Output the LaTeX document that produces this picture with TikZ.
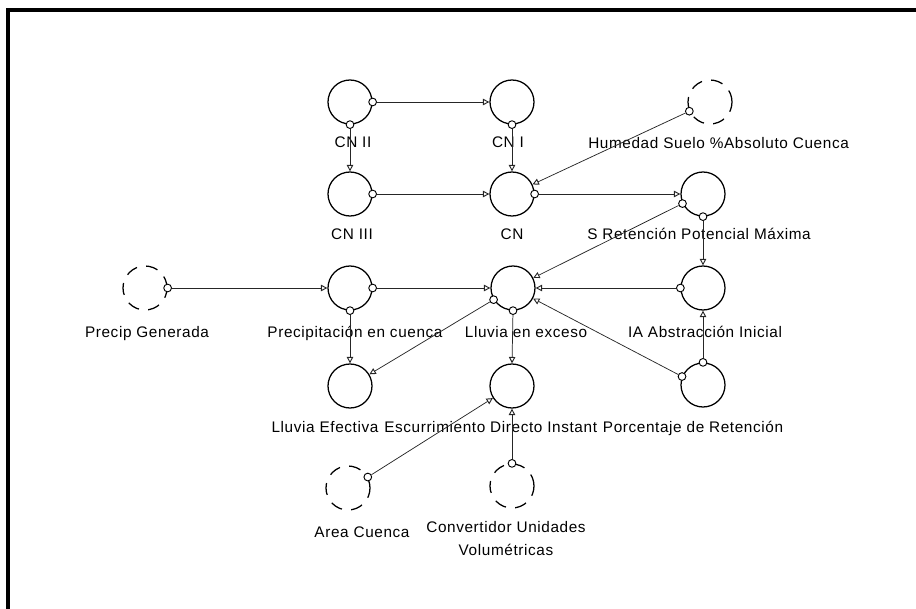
\documentclass[tikz,border=0pt]{standalone}
\usepackage{fontspec}
\setmainfont{Liberation Sans}
\newfontfamily\labelface[LetterSpace=4]{Liberation Sans}
\usetikzlibrary{arrows.meta}
\begin{document}
\begin{tikzpicture}[x=0.75pt,y=-0.75pt,
  var/.style={circle, draw, line width=0.95pt, minimum size=33pt, inner sep=0pt},
  ext/.style={var, dash pattern=on 9pt off 7pt},
  lbl/.style={inner sep=0pt, font=\labelface\fontsize{11.5}{13.5}\selectfont},
  src/.style={circle, draw, fill=white, line width=0.7pt, minimum size=5.8pt, inner sep=0pt},
  conn/.style={line width=0.55pt, draw=black!85, -{Triangle[open, length=4.8pt, width=4.8pt, line width=0.7pt]}},
  frame/.style={line width=2.4pt, line join=miter},
]
\useasboundingbox (0,0) rectangle (916,609);
\draw[frame] (8,609) -- (8,10) -- (916,10);

% variables of the runoff model
\node[var] (cn2)  at (350,102) {};
\node[var] (cn1)  at (512,102) {};
\node[ext] (hum)  at (710,102) {};
\node[var] (cn3)  at (350,194) {};
\node[var] (cn)   at (512,194) {};
\node[var] (smax) at (703,194) {};
\node[ext] (pgen) at (145,288) {};
\node[var] (pcue) at (350,288) {};
\node[var] (lexc) at (513,288) {};
\node[var] (iab)  at (703,288) {};
\node[var] (lef)  at (350,386) {};
\node[var] (esc)  at (512,386) {};
\node[var] (pret) at (703,385) {};
\node[ext] (area) at (348,488) {};
\node[ext] (conv) at (512,486) {};

% labels
\node[lbl, anchor=base] (tcn2) at (353,148) {CN II};
\node[lbl, anchor=base] (tcn1) at (508,148) {CN I};
\node[lbl, anchor=base west] (thum) at (588,149) {Humedad Suelo \%Absoluto Cuenca};
\node[lbl, anchor=base] (tcn3) at (352,240) {CN III};
\node[lbl, anchor=base] (tcn)  at (512,240) {CN};
\node[lbl, anchor=base west] (tsmax) at (587,240) {S Retención Potencial Máxima};
\node[lbl, anchor=base] (tpgen) at (147,337) {Precip Generada};
\node[lbl, anchor=base] (tpcue) at (355,337) {Precipitación en cuenca};
\node[lbl, anchor=base] (tlexc) at (526,337) {Lluvia en exceso};
\node[lbl, anchor=base] (tiab)  at (705,337) {IA Abstracción Inicial};
\node[lbl, anchor=base west] (tesc)  at (384,432) {Escurrimiento Directo Instant};
\node[lbl, anchor=base east] (tlef) at ([xshift=-4pt]tesc.base west) {Lluvia Efectiva};
\node[lbl, anchor=base west] (tpret) at ([xshift=4pt]tesc.base east) {Porcentaje de Retención};
\node[lbl, anchor=base] (tarea) at (362,537) {Area Cuenca};
\node[lbl, anchor=base] (tconv) at (506,532) {Convertidor Unidades};
\node[lbl, anchor=base] (tvol)  at (506,555) {Volumétricas};

% connector origins
\node[src] (o1)  at (cn2.east) {};
\node[src] (o2)  at (cn2.south) {};
\node[src] (o3)  at (cn1.south) {};
\node[src] (o4)  at (cn3.east) {};
\node[src] (o5)  at (hum.204) {};
\node[src] (o6)  at (cn.east) {};
\node[src] (o7)  at (smax.205) {};
\node[src] (o8)  at (smax.south) {};
\node[src] (o9)  at (pgen.east) {};
\node[src] (o10) at (pcue.east) {};
\node[src] (o11) at (pcue.south) {};
\node[src] (o12) at (lexc.211) {};
\node[src] (o13) at (lexc.south) {};
\node[src] (o14) at (iab.west) {};
\node[src] (o15) at (pret.158) {};
\node[src] (o16) at (pret.north) {};
\node[src] (o17) at (area.29) {};
\node[src] (o18) at (conv.north) {};

% connectors
\draw[conn] (o1)  -- (cn1.west);
\draw[conn] (o2)  -- (cn3.north);
\draw[conn] (o3)  -- (cn.north);
\draw[conn] (o4)  -- (cn.west);
\draw[conn] (o5)  -- (cn);
\draw[conn] (o6)  -- (smax.west);
\draw[conn] (o7)  -- (lexc);
\draw[conn] (o8)  -- (iab.north);
\draw[conn] (o9)  -- (pcue.west);
\draw[conn] (o10) -- (lexc.west);
\draw[conn] (o11) -- (lef.north);
\draw[conn] (o12) -- (lef);
\draw[conn] (o13) -- (esc.north);
\draw[conn] (o14) -- (lexc.east);
\draw[conn] (o15) -- (lexc);
\draw[conn] (o16) -- (iab.south);
\draw[conn] (o17) -- (esc);
\draw[conn] (o18) -- (esc.south);
\end{tikzpicture}
\end{document}
